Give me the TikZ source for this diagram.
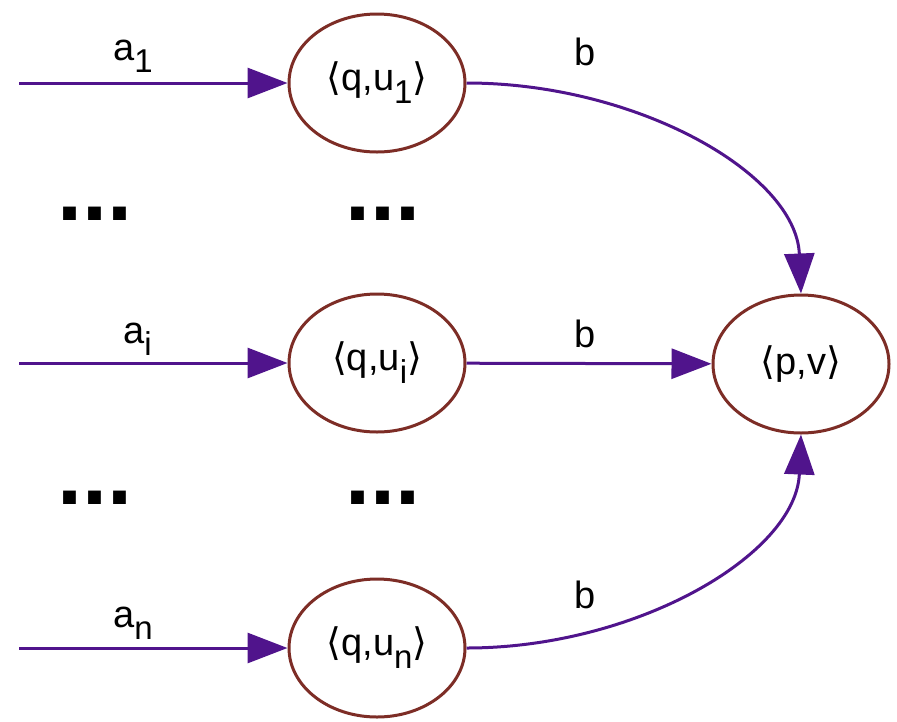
\documentclass[tikz,border=0pt]{standalone}
\usepackage{fontspec}
\setmainfont{Liberation Sans}
\newfontfamily\angfont{DejaVu Sans}
\usetikzlibrary{arrows.meta,shapes.geometric}
\definecolor{nodebrown}{RGB}{125,45,38}
\definecolor{edgepurple}{RGB}{80,20,140}
\newcommand{\mysub}[1]{\raisebox{-0.34em}{\fontsize{33}{34}\selectfont #1}}
\newcommand{\lan}{{\angfont ⟨}}
\newcommand{\ran}{{\angfont ⟩}}
\begin{document}
\begin{tikzpicture}[x=1pt,y=-1pt,
  st/.style={ellipse, draw=nodebrown, line width=3pt, minimum width=176pt,
    minimum height=138pt, inner sep=0pt, font=\fontsize{38}{40}\selectfont},
  lab/.style={inner sep=0pt, font=\fontsize{38}{40}\selectfont},
  dots/.style={inner sep=0pt, font=\fontsize{90}{90}\selectfont\bfseries},
  edge/.style={draw=edgepurple, line width=3pt,
    -{Triangle[length=40pt,width=30pt]}}]
\useasboundingbox (0,0) rectangle (897,721);
\node[st] (q1) at (377,83) {\lan q,u\mysub{1}\ran};
\node[st] (qi) at (377,363) {\lan q,u\mysub{i}\ran};
\node[st] (qn) at (377,648) {\lan q,u\mysub{n}\ran};
\node[st] (pv) at (801,364) {\lan p,v\ran};
\coordinate (s1) at (19,83);
\coordinate (si) at (19,363);
\coordinate (sn) at (19,648);
\draw[edge] (s1) -- (q1);
\draw[edge] (si) -- (qi);
\draw[edge] (sn) -- (qn);
\draw[edge] (q1.east) .. controls +(170,0) and +(-5,-120) .. (pv.north);
\draw[edge] (qi) -- (pv);
\draw[edge] (qn.east) .. controls +(170,0) and +(-5,120) .. (pv.south);
\node[lab, anchor=base west] (la1) at (113,60) {a\mysub{1}};
\node[lab, anchor=base west] (lai) at (123,343) {a\mysub{i}};
\node[lab, anchor=base west] (lan) at (113,627) {a\mysub{n}};
\node[lab, anchor=base] (lb1) at (585,65) {b};
\node[lab, anchor=base] (lbi) at (585,347) {b};
\node[lab, anchor=base] (lbn) at (585,608) {b};
\node[dots] (d1) at (95,214) {...};
\node[dots] (d2) at (383,214) {...};
\node[dots] (d3) at (95,498) {...};
\node[dots] (d4) at (383,498) {...};
\end{tikzpicture}
\end{document}
